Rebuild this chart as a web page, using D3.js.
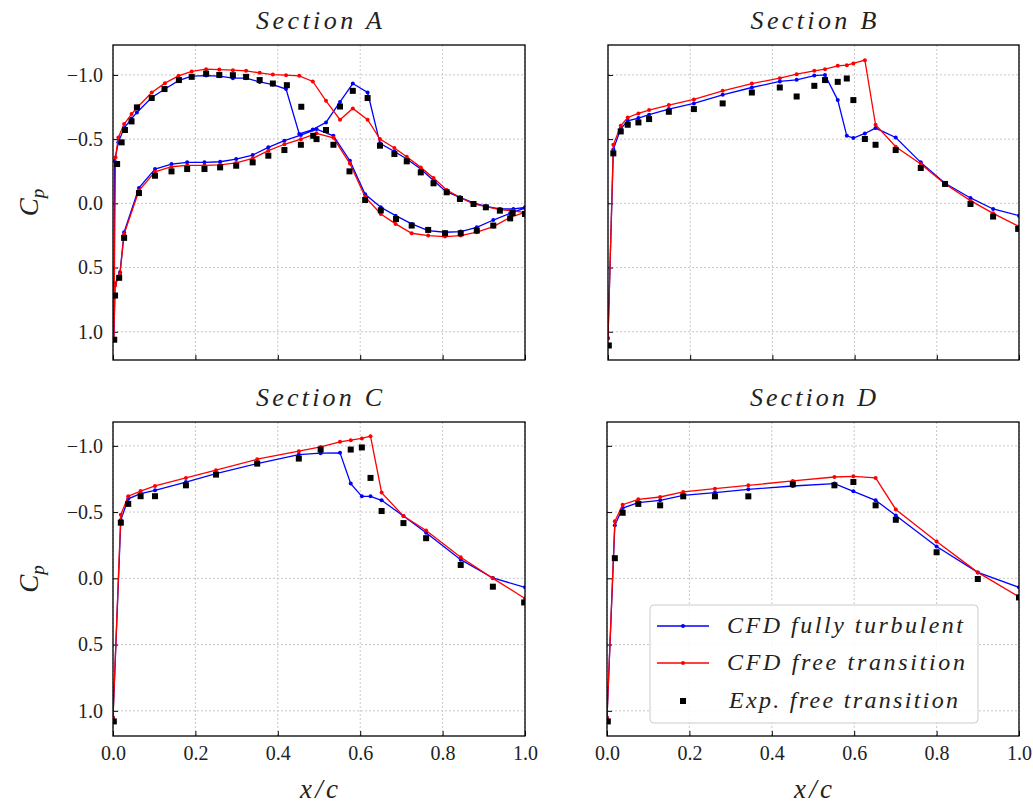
<!DOCTYPE html>
<html><head><meta charset="utf-8">
<script src="https://cdn.jsdelivr.net/npm/d3@7"></script>
<style>
body{margin:0;background:#fff;}
</style></head>
<body><svg id="chart" width="1033" height="806"></svg>
<script>
// ---------------- DATA ----------------
const sectionTitles = ["Section A","Section B","Section C","Section D"];
const xTicks = [0.0,0.2,0.4,0.6,0.8,1.0];
const yTicks = [-1.0,-0.5,0.0,0.5,1.0];
const legendLabels = ["CFD fully turbulent","CFD free transition","Exp. free transition"];

// Section A (two surfaces, drawn as one line: upper TE->LE then lower LE->TE)
const A_turb_upper = [[0.004,-0.33],[0.013,-0.475],[0.027,-0.586],[0.045,-0.66],[0.058,-0.708],[0.094,-0.824],[0.126,-0.89],[0.159,-0.955],[0.191,-0.99],[0.226,-0.995],[0.258,-0.99],[0.291,-0.975],[0.323,-0.975],[0.356,-0.945],[0.388,-0.925],[0.42,-0.89],[0.452,-0.54],[0.485,-0.575],[0.517,-0.63],[0.551,-0.79],[0.582,-0.933],[0.618,-0.863],[0.648,-0.467],[0.683,-0.404],[0.713,-0.345],[0.747,-0.267],[0.778,-0.177],[0.808,-0.093],[0.842,-0.047],[0.875,-0.003],[0.905,0.023],[0.939,0.044],[0.972,0.044],[1.0,0.031]];
const A_turb_lower = [[0.002,1.06],[0.005,0.627],[0.017,0.537],[0.027,0.225],[0.063,-0.12],[0.102,-0.267],[0.142,-0.306],[0.18,-0.319],[0.222,-0.319],[0.26,-0.324],[0.299,-0.345],[0.339,-0.376],[0.377,-0.436],[0.416,-0.488],[0.456,-0.532],[0.494,-0.578],[0.535,-0.526],[0.575,-0.332],[0.612,-0.07],[0.65,0.031],[0.686,0.096],[0.725,0.16],[0.765,0.212],[0.806,0.225],[0.844,0.22],[0.883,0.187],[0.923,0.13],[0.964,0.078],[1.0,0.036]];
const A_trans_upper = [[0.006,-0.358],[0.013,-0.513],[0.027,-0.617],[0.045,-0.695],[0.061,-0.754],[0.094,-0.863],[0.126,-0.936],[0.159,-0.993],[0.191,-1.027],[0.226,-1.045],[0.258,-1.042],[0.291,-1.037],[0.323,-1.032],[0.356,-1.016],[0.388,-1.003],[0.42,-0.998],[0.452,-0.993],[0.485,-0.949],[0.517,-0.798],[0.551,-0.651],[0.582,-0.739],[0.618,-0.651],[0.648,-0.501],[0.683,-0.431],[0.713,-0.363],[0.747,-0.28],[0.778,-0.197],[0.81,-0.104],[0.842,-0.047],[0.875,0.005],[0.905,0.026],[0.939,0.049],[0.972,0.06],[1.0,0.07]];
const A_trans_lower = [[0.002,1.06],[0.005,0.64],[0.017,0.55],[0.027,0.24],[0.063,-0.1],[0.102,-0.245],[0.142,-0.285],[0.18,-0.295],[0.222,-0.295],[0.26,-0.3],[0.299,-0.315],[0.339,-0.35],[0.377,-0.41],[0.416,-0.46],[0.456,-0.5],[0.494,-0.545],[0.535,-0.51],[0.575,-0.31],[0.612,-0.05],[0.65,0.083],[0.686,0.16],[0.725,0.233],[0.765,0.251],[0.806,0.259],[0.844,0.251],[0.883,0.225],[0.923,0.181],[0.964,0.109],[1.0,0.07]];
const A_exp_upper = [[0.01,-0.306],[0.021,-0.475],[0.029,-0.571],[0.045,-0.638],[0.058,-0.747],[0.094,-0.82],[0.125,-0.89],[0.16,-0.96],[0.191,-0.985],[0.226,-1.01],[0.258,-1.0],[0.291,-0.998],[0.323,-0.985],[0.356,-0.96],[0.388,-0.933],[0.422,-0.92],[0.457,-0.752],[0.486,-0.526],[0.517,-0.571],[0.551,-0.754],[0.582,-0.876],[0.618,-0.82],[0.648,-0.449],[0.683,-0.384],[0.713,-0.327],[0.747,-0.241],[0.778,-0.156],[0.81,-0.086],[0.842,-0.034],[0.875,0.005],[0.905,0.031],[0.939,0.057],[0.97,0.075]];
const A_exp_lower = [[0.003,1.062],[0.005,0.718],[0.015,0.58],[0.027,0.269],[0.063,-0.08],[0.102,-0.215],[0.142,-0.249],[0.18,-0.267],[0.222,-0.267],[0.26,-0.28],[0.299,-0.293],[0.339,-0.319],[0.377,-0.371],[0.416,-0.415],[0.456,-0.456],[0.494,-0.5],[0.535,-0.456],[0.574,-0.249],[0.612,-0.026],[0.65,0.055],[0.687,0.122],[0.725,0.173],[0.765,0.207],[0.806,0.233],[0.844,0.233],[0.883,0.212],[0.923,0.173],[0.964,0.117],[1.0,0.083]];

// Section B
const B_turb = [[0.0,1.05],[0.013,-0.42],[0.031,-0.58],[0.048,-0.643],[0.074,-0.664],[0.1,-0.69],[0.148,-0.734],[0.209,-0.778],[0.279,-0.845],[0.35,-0.902],[0.418,-0.949],[0.459,-0.962],[0.502,-0.995],[0.528,-1.0],[0.559,-0.804],[0.581,-0.526],[0.597,-0.508],[0.625,-0.544],[0.651,-0.586],[0.7,-0.513],[0.761,-0.319],[0.82,-0.156],[0.882,-0.042],[0.937,0.044],[1.0,0.096]];
const B_trans = [[0.0,1.05],[0.013,-0.456],[0.031,-0.604],[0.048,-0.669],[0.074,-0.7],[0.1,-0.726],[0.148,-0.765],[0.209,-0.809],[0.279,-0.876],[0.35,-0.933],[0.418,-0.975],[0.459,-1.006],[0.502,-1.032],[0.528,-1.045],[0.559,-1.071],[0.581,-1.076],[0.597,-1.089],[0.625,-1.115],[0.651,-0.612],[0.7,-0.441],[0.761,-0.306],[0.82,-0.151],[0.882,-0.021],[0.937,0.078],[1.0,0.181]];
const B_exp = [[0.002,1.107],[0.013,-0.389],[0.031,-0.56],[0.048,-0.612],[0.074,-0.63],[0.1,-0.656],[0.148,-0.713],[0.209,-0.734],[0.279,-0.778],[0.35,-0.863],[0.418,-0.902],[0.459,-0.832],[0.502,-0.915],[0.528,-0.96],[0.559,-0.946],[0.581,-0.972],[0.597,-0.804],[0.625,-0.501],[0.651,-0.456],[0.7,-0.415],[0.761,-0.275],[0.82,-0.151],[0.882,0.005],[0.937,0.103],[0.998,0.199]];

// Section C
const C_turb = [[0.0,1.05],[0.019,-0.44],[0.037,-0.6],[0.067,-0.64],[0.102,-0.664],[0.177,-0.727],[0.25,-0.79],[0.35,-0.866],[0.451,-0.934],[0.504,-0.945],[0.551,-0.947],[0.577,-0.715],[0.604,-0.619],[0.625,-0.619],[0.652,-0.589],[0.705,-0.47],[0.76,-0.344],[0.844,-0.141],[0.922,-0.003],[1.0,0.068]];
const C_trans = [[0.0,1.05],[0.019,-0.48],[0.037,-0.62],[0.067,-0.659],[0.102,-0.697],[0.177,-0.758],[0.25,-0.816],[0.35,-0.899],[0.451,-0.96],[0.504,-0.992],[0.551,-1.03],[0.577,-1.043],[0.604,-1.056],[0.625,-1.073],[0.652,-0.647],[0.705,-0.47],[0.76,-0.361],[0.844,-0.159],[0.922,0.0],[1.0,0.152]];
const C_exp = [[0.002,1.08],[0.019,-0.42],[0.037,-0.562],[0.067,-0.62],[0.102,-0.62],[0.177,-0.702],[0.25,-0.783],[0.35,-0.866],[0.451,-0.904],[0.504,-0.972],[0.577,-0.972],[0.604,-0.988],[0.625,-0.758],[0.652,-0.508],[0.705,-0.417],[0.76,-0.303],[0.844,-0.101],[0.922,0.063],[0.998,0.182]];

// Section D
const D_turb = [[0.0,1.05],[0.019,-0.4],[0.038,-0.53],[0.076,-0.571],[0.129,-0.589],[0.185,-0.626],[0.262,-0.647],[0.343,-0.672],[0.451,-0.697],[0.552,-0.715],[0.598,-0.657],[0.652,-0.589],[0.701,-0.475],[0.8,-0.24],[0.9,-0.045],[1.0,0.068]];
const D_trans = [[0.0,1.05],[0.019,-0.43],[0.038,-0.556],[0.076,-0.596],[0.129,-0.614],[0.185,-0.652],[0.262,-0.677],[0.343,-0.702],[0.451,-0.735],[0.552,-0.765],[0.598,-0.77],[0.652,-0.758],[0.701,-0.52],[0.8,-0.278],[0.9,-0.045],[1.0,0.139]];
const D_exp = [[0.002,1.08],[0.019,-0.152],[0.038,-0.495],[0.076,-0.562],[0.129,-0.551],[0.185,-0.619],[0.262,-0.619],[0.343,-0.619],[0.451,-0.71],[0.552,-0.702],[0.598,-0.727],[0.652,-0.551],[0.701,-0.442],[0.8,-0.197],[0.9,0.005],[1.0,0.144]];

const rowYDomains = [[-1.233,1.22],[-1.18,1.19]];

// ---------------- DRAW ----------------
const FONT = "Liberation Serif";
const svg = d3.select("#chart");
const BLUE = "#0000ff", RED = "#ff0000";

const panels = [
  {title:sectionTitles[0], x0:113, x1:525, y0:45,  y1:360, row:0, ylabels:true, xlabels:false,
   turb:A_turb_upper.slice().reverse().concat(A_turb_lower),
   trans:A_trans_upper.slice().reverse().concat(A_trans_lower),
   exp:A_exp_upper.concat(A_exp_lower)},
  {title:sectionTitles[1], x0:608, x1:1019, y0:45, y1:360, row:0, ylabels:false, xlabels:false,
   turb:B_turb, trans:B_trans, exp:B_exp},
  {title:sectionTitles[2], x0:113, x1:525, y0:422, y1:736, row:1, ylabels:true, xlabels:true,
   turb:C_turb, trans:C_trans, exp:C_exp},
  {title:sectionTitles[3], x0:607, x1:1019, y0:422, y1:736, row:1, ylabels:false, xlabels:true,
   turb:D_turb, trans:D_trans, exp:D_exp}
];

const fmt = v => (v<0?"\u2212":"") + Math.abs(v).toFixed(1);

panels.forEach((p,i)=>{
  const x = d3.scaleLinear().domain([0,1]).range([p.x0,p.x1]);
  const y = d3.scaleLinear().domain(rowYDomains[p.row]).range([p.y0,p.y1]);
  const g = svg.append("g");
  const clipId = "clip"+i;
  svg.append("clipPath").attr("id",clipId).append("rect")
     .attr("x",p.x0).attr("y",p.y0).attr("width",p.x1-p.x0).attr("height",p.y1-p.y0);

  // grid
  const grid = g.append("g").attr("stroke","#c8c8c8").attr("stroke-width",1).attr("stroke-dasharray","2,2");
  xTicks.forEach(t=>grid.append("line").attr("x1",x(t)).attr("x2",x(t)).attr("y1",p.y0).attr("y2",p.y1));
  yTicks.forEach(t=>grid.append("line").attr("y1",y(t)).attr("y2",y(t)).attr("x1",p.x0).attr("x2",p.x1));

  // axes (ticks inward)
  const xa = d3.axisBottom(x).tickValues(xTicks).tickSize(-5).tickPadding(10)
     .tickFormat(p.xlabels? d=>d.toFixed(1) : ()=>"");
  const ya = d3.axisLeft(y).tickValues(yTicks).tickSize(-5).tickPadding(10)
     .tickFormat(p.ylabels? fmt : ()=>"");
  const gx = g.append("g").attr("transform",`translate(0,${p.y1})`).call(xa);
  const gy = g.append("g").attr("transform",`translate(${p.x0},0)`).call(ya);
  [gx,gy].forEach(a=>{
    a.attr("font-family",FONT).attr("font-size",20);
    a.select(".domain").remove();
    a.selectAll("line").attr("stroke","#000").attr("stroke-width",1);
    a.selectAll("text").attr("font-family",FONT).attr("font-size",20).attr("fill","#222");
  });

  const plot = g.append("g").attr("clip-path",`url(#${clipId})`);
  const line = d3.line().x(d=>x(d[0])).y(d=>y(d[1]));
  [[p.turb,BLUE],[p.trans,RED]].forEach(([data,col])=>{
    plot.append("path").datum(data).attr("d",line).attr("fill","none")
      .attr("stroke",col).attr("stroke-width",1.3);
    plot.append("g").selectAll("circle").data(data).join("circle")
      .attr("cx",d=>x(d[0])).attr("cy",d=>y(d[1])).attr("r",2).attr("fill",col);
  });
  plot.append("g").selectAll("rect").data(p.exp).join("rect")
    .attr("x",d=>x(d[0])-3).attr("y",d=>y(d[1])-3).attr("width",6).attr("height",6).attr("fill","#000");

  // frame
  g.append("rect").attr("x",p.x0).attr("y",p.y0).attr("width",p.x1-p.x0).attr("height",p.y1-p.y0)
    .attr("fill","none").attr("stroke","#000").attr("stroke-width",1.3);

  // title
  svg.append("text").attr("x",(p.x0+p.x1)/2).attr("y",p.y0-16).attr("text-anchor","middle")
    .attr("font-family",FONT).attr("font-size",26).attr("font-style","italic").attr("fill","#222")
    .attr("textLength",126).attr("lengthAdjust","spacing").text(p.title);

  if(p.ylabels){
    const cy = (p.y0+p.y1)/2;
    const t = svg.append("text").attr("transform",`translate(38,${cy}) rotate(-90)`)
      .attr("text-anchor","middle").attr("font-family",FONT).attr("font-size",27)
      .attr("font-style","italic").attr("fill","#222");
    t.append("tspan").text("C");
    t.append("tspan").attr("font-size",19).attr("dy",6).text("p");
  }
  if(p.xlabels){
    svg.append("text").attr("x",(p.x0+p.x1)/2).attr("y",798).attr("text-anchor","middle")
      .attr("font-family",FONT).attr("font-size",27).attr("font-style","italic").attr("fill","#222")
      .attr("textLength",38).attr("lengthAdjust","spacing").text("x/c");
  }
});

// legend
const lg = svg.append("g");
lg.append("rect").attr("x",650).attr("y",605).attr("width",328).attr("height",118).attr("rx",4)
  .attr("fill","#fff").attr("fill-opacity",0.85).attr("stroke","#cccccc").attr("stroke-width",1);
const legY = [626,663,701];
const legW = [236,238,229];
[[BLUE],[RED]].forEach(([c],k)=>{
  lg.append("line").attr("x1",657).attr("x2",709).attr("y1",legY[k]).attr("y2",legY[k])
    .attr("stroke",c).attr("stroke-width",1.3);
  lg.append("circle").attr("cx",683).attr("cy",legY[k]).attr("r",2).attr("fill",c);
});
lg.append("rect").attr("x",680).attr("y",legY[2]-3).attr("width",6).attr("height",6).attr("fill","#000");
legendLabels.forEach((s,k)=>{
  lg.append("text").attr("x",k==2?729:727).attr("y",legY[k]+7).attr("font-size",24)
    .attr("font-family",FONT).attr("font-style","italic").attr("fill","#222")
    .attr("textLength",legW[k]).attr("lengthAdjust","spacing").text(s);
});
</script></body></html>
